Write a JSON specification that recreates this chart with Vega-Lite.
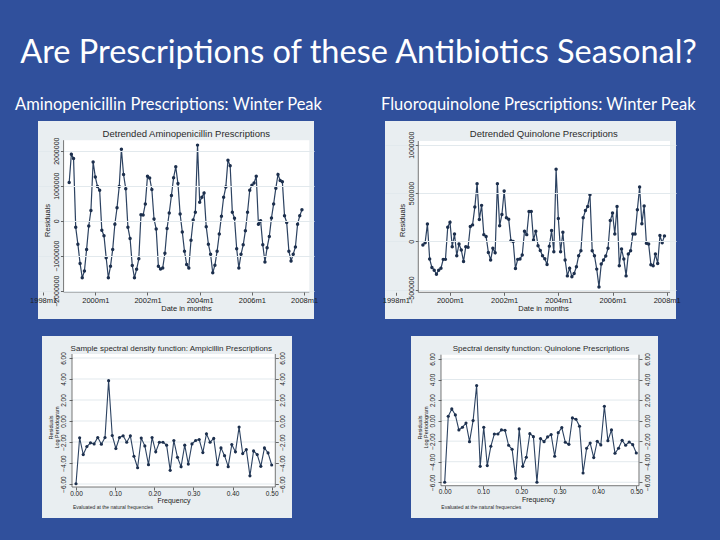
{
  "$schema": "https://vega.github.io/schema/vega-lite/v6.json",
  "background": "#30509c",
  "padding": {"left": 15, "top": 37, "right": 22, "bottom": 22},
  "bounds": "flush",
  "columns": 2,
  "spacing": {"row": 17, "column": 71},
  "title": {"text": "Are Prescriptions of these Antibiotics Seasonal?", "color": "#ffffff", "font": "Lato", "fontSize": 32.5, "fontWeight": "normal", "anchor": "middle", "offset": 27, "dx": 3},
  "config": {
    "view": {"stroke": null},
    "axis": {"labelFont": "Liberation Sans", "titleFont": "Liberation Sans", "labelColor": "#222222", "titleColor": "#222222", "tickColor": "#444444", "tickWidth": 0.8, "domain": false, "labelFlush": false, "labelOverlap": false, "titleFontWeight": "normal"}
  },
  "datasets": {
    "ts": [
      {"t":1999,"a":1090000,"q":-38000},{"t":1999.083,"a":1900000,"q":-14000},{"t":1999.167,"a":1780000,"q":180000},{"t":1999.25,"a":-190000,"q":-184000},{"t":1999.333,"a":-670000,"q":-271000},{"t":1999.417,"a":-1220000,"q":-299000},{"t":1999.5,"a":-1630000,"q":-340000},{"t":1999.583,"a":-1440000,"q":-299000},{"t":1999.667,"a":-820000,"q":-278000},{"t":1999.75,"a":-150000,"q":-187000},{"t":1999.833,"a":290000,"q":-187000},{"t":1999.917,"a":1680000,"q":146000},
      {"t":2000,"a":1250000,"q":198000},{"t":2000.083,"a":980000,"q":-56000},{"t":2000.167,"a":870000,"q":76000},{"t":2000.25,"a":-270000,"q":-149000},{"t":2000.333,"a":-430000,"q":-28000},{"t":2000.417,"a":-1060000,"q":-90000},{"t":2000.5,"a":-1630000,"q":-208000},{"t":2000.583,"a":-1300000,"q":-56000},{"t":2000.667,"a":-820000,"q":-62000},{"t":2000.75,"a":-100000,"q":153000},{"t":2000.833,"a":370000,"q":170000},{"t":2000.917,"a":980000,"q":354000},
      {"t":2001,"a":2040000,"q":597000},{"t":2001.083,"a":1320000,"q":226000},{"t":2001.167,"a":910000,"q":372000},{"t":2001.25,"a":-190000,"q":69000},{"t":2001.333,"a":-510000,"q":49000},{"t":2001.417,"a":-1280000,"q":-115000},{"t":2001.5,"a":-1630000,"q":-194000},{"t":2001.583,"a":-1390000,"q":-73000},{"t":2001.667,"a":-1090000,"q":-118000},{"t":2001.75,"a":170000,"q":597000},{"t":2001.833,"a":160000,"q":160000},{"t":2001.917,"a":480000,"q":278000},
      {"t":2002,"a":1270000,"q":521000},{"t":2002.083,"a":1220000,"q":243000},{"t":2002.167,"a":890000,"q":229000},{"t":2002.25,"a":50000,"q":7000},{"t":2002.333,"a":-240000,"q":-3000},{"t":2002.417,"a":-1300000,"q":-281000},{"t":2002.5,"a":-1380000,"q":-187000},{"t":2002.583,"a":-1350000,"q":-184000},{"t":2002.667,"a":-930000,"q":-142000},{"t":2002.75,"a":-220000,"q":104000},{"t":2002.833,"a":220000,"q":69000},{"t":2002.917,"a":720000,"q":309000},
      {"t":2003,"a":1230000,"q":309000},{"t":2003.083,"a":1540000,"q":14000},{"t":2003.167,"a":1060000,"q":104000},{"t":2003.25,"a":190000,"q":-45000},{"t":2003.333,"a":-320000,"q":-95000},{"t":2003.417,"a":-870000,"q":-150000},{"t":2003.5,"a":-1250000,"q":-180000},{"t":2003.583,"a":-1350000,"q":-240000},{"t":2003.667,"a":-560000,"q":-50000},{"t":2003.75,"a":20000,"q":111000},{"t":2003.833,"a":240000,"q":-108000},{"t":2003.917,"a":2160000,"q":746000},
      {"t":2004,"a":530000,"q":236000},{"t":2004.083,"a":670000,"q":-108000},{"t":2004.167,"a":790000,"q":94000},{"t":2004.25,"a":-170000,"q":-194000},{"t":2004.333,"a":-670000,"q":-358000},{"t":2004.417,"a":-960000,"q":-278000},{"t":2004.5,"a":-1490000,"q":-368000},{"t":2004.583,"a":-1270000,"q":-333000},{"t":2004.667,"a":-870000,"q":-264000},{"t":2004.75,"a":-380000,"q":-149000},{"t":2004.833,"a":130000,"q":-97000},{"t":2004.917,"a":670000,"q":243000},
      {"t":2005,"a":960000,"q":319000},{"t":2005.083,"a":1730000,"q":361000},{"t":2005.167,"a":1570000,"q":483000},{"t":2005.25,"a":240000,"q":-97000},{"t":2005.333,"a":70000,"q":-149000},{"t":2005.417,"a":-800000,"q":-288000},{"t":2005.5,"a":-1350000,"q":-472000},{"t":2005.583,"a":-960000,"q":-236000},{"t":2005.667,"a":-690000,"q":-194000},{"t":2005.75,"a":-290000,"q":-153000},{"t":2005.833,"a":240000,"q":-73000},{"t":2005.917,"a":870000,"q":215000},
      {"t":2006,"a":1010000,"q":292000},{"t":2006.083,"a":1080000,"q":76000},{"t":2006.167,"a":1270000,"q":361000},{"t":2006.25,"a":-100000,"q":-253000},{"t":2006.333,"a":0,"q":-80000},{"t":2006.417,"a":-690000,"q":-184000},{"t":2006.5,"a":-1180000,"q":-358000},{"t":2006.583,"a":-770000,"q":-132000},{"t":2006.667,"a":-450000,"q":-97000},{"t":2006.75,"a":80000,"q":76000},{"t":2006.833,"a":480000,"q":76000},{"t":2006.917,"a":930000,"q":326000},
      {"t":2007,"a":1320000,"q":562000},{"t":2007.083,"a":1150000,"q":181000},{"t":2007.167,"a":1110000,"q":365000},{"t":2007.25,"a":140000,"q":-21000},{"t":2007.333,"a":-50000,"q":-28000},{"t":2007.417,"a":-870000,"q":-243000},{"t":2007.5,"a":-1150000,"q":-253000},{"t":2007.583,"a":-960000,"q":-132000},{"t":2007.667,"a":-750000,"q":-229000},{"t":2007.75,"a":-100000,"q":59000},{"t":2007.833,"a":140000,"q":-14000},{"t":2007.917,"a":310000,"q":56000}
    ],
    "sp": [
      {"f":0,"a":-5.98,"q":-6.0},{"f":0.0093,"a":-1.6,"q":0.42},{"f":0.0185,"a":-3.2,"q":1.14},{"f":0.0278,"a":-2.43,"q":0.55},{"f":0.037,"a":-2.08,"q":-0.91},{"f":0.0463,"a":-2.18,"q":-0.65},{"f":0.0556,"a":-1.57,"q":-0.23},{"f":0.0648,"a":-2.21,"q":-2.05},{"f":0.0741,"a":-1.57,"q":0.0},{"f":0.0833,"a":3.84,"q":3.41},
      {"f":0.0926,"a":-1.38,"q":-4.45},{"f":0.1019,"a":-2.62,"q":-0.65},{"f":0.1111,"a":-1.57,"q":-4.38},{"f":0.1204,"a":-1.41,"q":-2.5},{"f":0.1296,"a":-2.02,"q":-1.3},{"f":0.1389,"a":-1.41,"q":-1.3},{"f":0.1481,"a":-3.36,"q":-0.91},{"f":0.1574,"a":-4.45,"q":-0.94},{"f":0.1667,"a":-1.63,"q":-2.4},{"f":0.1759,"a":-2.37,"q":-2.79},
      {"f":0.1852,"a":-4.16,"q":-5.62},{"f":0.1944,"a":-1.57,"q":-0.81},{"f":0.2037,"a":-2.94,"q":-4.45},{"f":0.213,"a":-2.02,"q":-3.57},{"f":0.2222,"a":-2.02,"q":-1.27},{"f":0.2315,"a":-2.3,"q":-1.56},{"f":0.2407,"a":-4.7,"q":-6.0},{"f":0.25,"a":-1.86,"q":-1.75},{"f":0.2593,"a":-3.46,"q":-2.05},{"f":0.2685,"a":-4.35,"q":-1.59},
      {"f":0.2778,"a":-2.3,"q":-1.36},{"f":0.287,"a":-4.1,"q":-3.47},{"f":0.2963,"a":-2.18,"q":-1.17},{"f":0.3056,"a":-1.86,"q":-0.68},{"f":0.3148,"a":-1.76,"q":-2.11},{"f":0.3241,"a":-3.01,"q":-2.31},{"f":0.3333,"a":-1.22,"q":0.26},{"f":0.3426,"a":-2.02,"q":0.13},{"f":0.3519,"a":-1.66,"q":-0.55},{"f":0.3611,"a":-4.16,"q":-5.1},
      {"f":0.3704,"a":-2.56,"q":-2.69},{"f":0.3796,"a":-3.3,"q":-2.18},{"f":0.3889,"a":-4.35,"q":-3.6},{"f":0.3981,"a":-2.24,"q":-2.01},{"f":0.4074,"a":-2.94,"q":-2.37},{"f":0.4167,"a":-0.58,"q":1.4},{"f":0.4259,"a":-3.1,"q":-1.95},{"f":0.4352,"a":-2.72,"q":-0.91},{"f":0.4444,"a":-5.22,"q":-3.18},{"f":0.4537,"a":-2.85,"q":-2.69},
      {"f":0.463,"a":-3.2,"q":-1.92},{"f":0.4722,"a":-4.32,"q":-2.4},{"f":0.4815,"a":-2.56,"q":-2.08},{"f":0.4907,"a":-3.04,"q":-2.34},{"f":0.5,"a":-4.19,"q":-3.15}
    ]
  },
  "concat": [
    {
      "width": 276, "height": 198,
      "view": {"fill": "#e9eef1", "stroke": null},
      "title": {"text": "Aminopenicillin Prescriptions: Winter Peak", "anchor": "start", "frame": "group", "dx": -23, "offset": 8, "color": "#ffffff", "font": "Lato", "fontSize": 16.5, "fontWeight": "normal"},
      "resolve": {"axis": {"x": "independent", "y": "independent"}},
      "layer": [
        {"data": {"values": [{}]}, "mark": {"type": "rect", "color": "#ffffff"},
         "encoding": {"x": {"datum": 1998.785, "type": "quantitative", "scale": {"domain": [1997.805, 2008.379], "nice": false, "zero": false}, "axis": null}, "x2": {"datum": 2008.2},
                      "y": {"datum": -2037000, "type": "quantitative", "scale": {"domain": [-2809000, 2849000], "nice": false, "zero": false}, "axis": null}, "y2": {"datum": 2300000}}},
        {"data": {"name": "ts"}, "mark": {"type": "line", "color": "#2c4261", "strokeWidth": 1.2, "point": {"filled": true, "size": 12, "color": "#1c2f4d"}},
         "encoding": {
           "x": {"field": "t", "type": "quantitative", "scale": {"domain": [1997.805, 2008.379], "nice": false, "zero": false},
                 "axis": {"values": [1998, 2000, 2002, 2004, 2006, 2008], "labelExpr": "datum.value + 'm1'", "title": "Date in months", "titleX": 148, "offset": -27, "grid": false, "tickSize": 3, "labelPadding": 1, "labelFontSize": 7.5, "titleFontSize": 7.5, "titlePadding": 1, "zindex": 1}},
           "y": {"field": "a", "type": "quantitative", "scale": {"domain": [-2809000, 2849000], "nice": false, "zero": false},
                 "axis": {"values": [-2000000, -1000000, 0, 1000000, 2000000], "format": "d", "title": "Residuals", "offset": -25.5, "labelAngle": -90, "tickSize": 3, "labelPadding": 1, "labelFontSize": 7, "titleFontSize": 7.5, "titlePadding": 1, "grid": true, "gridColor": "#e2e9ed", "zindex": 1}}
         }},
        {"data": {"values": [{}]}, "mark": {"type": "rule", "color": "#555555", "strokeWidth": 0.8},
         "encoding": {"x": {"datum": 1998.785, "type": "quantitative", "scale": {"domain": [1997.805, 2008.379], "nice": false, "zero": false}, "axis": null},
                      "y": {"datum": -2037000, "type": "quantitative", "scale": {"domain": [-2809000, 2849000], "nice": false, "zero": false}, "axis": null}, "y2": {"datum": 2300000}}},
        {"data": {"values": [{}]}, "mark": {"type": "rule", "color": "#555555", "strokeWidth": 0.8},
         "encoding": {"x": {"datum": 1998.785, "type": "quantitative", "scale": {"domain": [1997.805, 2008.379], "nice": false, "zero": false}, "axis": null}, "x2": {"datum": 2008.2},
                      "y": {"datum": -2037000, "type": "quantitative", "scale": {"domain": [-2809000, 2849000], "nice": false, "zero": false}, "axis": null}}},
        {"data": {"values": [{}]}, "mark": {"type": "text", "font": "Liberation Sans", "fontSize": 9.5, "color": "#2a2a2a", "baseline": "middle"},
         "encoding": {"x": {"datum": 2003.487, "type": "quantitative", "scale": {"domain": [1997.805, 2008.379], "nice": false, "zero": false}, "axis": null},
                      "y": {"datum": 2477000, "type": "quantitative", "scale": {"domain": [-2809000, 2849000], "nice": false, "zero": false}, "axis": null},
                      "text": {"value": "Detrended Aminopenicillin Prescriptions"}}}
      ]
    },
    {
      "width": 291, "height": 198,
      "view": {"fill": "#e9eef1", "stroke": null},
      "title": {"text": "Fluoroquinolone Prescriptions: Winter Peak", "anchor": "start", "frame": "group", "dx": -4, "offset": 8, "color": "#ffffff", "font": "Lato", "fontSize": 16.5, "fontWeight": "normal"},
      "resolve": {"axis": {"x": "independent", "y": "independent"}},
      "layer": [
        {"data": {"values": [{}]}, "mark": {"type": "rect", "color": "#ffffff"},
         "encoding": {"x": {"datum": 1998.83, "type": "quantitative", "scale": {"domain": [1997.601, 2008.343], "nice": false, "zero": false}, "axis": null}, "x2": {"datum": 2008.123},
                      "y": {"datum": -528000, "type": "quantitative", "scale": {"domain": [-804300, 1245300], "nice": false, "zero": false}, "axis": null}, "y2": {"datum": 1038000}}},
        {"data": {"name": "ts"}, "mark": {"type": "line", "color": "#2c4261", "strokeWidth": 1.2, "point": {"filled": true, "size": 12, "color": "#1c2f4d"}},
         "encoding": {
           "x": {"field": "t", "type": "quantitative", "scale": {"domain": [1997.601, 2008.343], "nice": false, "zero": false},
                 "axis": {"values": [1998, 2000, 2002, 2004, 2006, 2008], "labelExpr": "datum.value + 'm1'", "title": "Date in months", "titleX": 158, "offset": -26.7, "grid": false, "tickSize": 3, "labelPadding": 1, "labelFontSize": 7.5, "titleFontSize": 7.5, "titlePadding": 1, "zindex": 1}},
           "y": {"field": "q", "type": "quantitative", "scale": {"domain": [-804300, 1245300], "nice": false, "zero": false},
                 "axis": {"values": [-500000, 0, 500000, 1000000], "format": "d", "title": "Residuals", "offset": -33.3, "labelAngle": -90, "tickSize": 3, "labelPadding": 1, "labelFontSize": 7, "titleFontSize": 7.5, "titlePadding": 1, "grid": true, "gridColor": "#e2e9ed", "zindex": 1}}
         }},
        {"data": {"values": [{}]}, "mark": {"type": "rule", "color": "#555555", "strokeWidth": 0.8},
         "encoding": {"x": {"datum": 1998.83, "type": "quantitative", "scale": {"domain": [1997.601, 2008.343], "nice": false, "zero": false}, "axis": null},
                      "y": {"datum": -528000, "type": "quantitative", "scale": {"domain": [-804300, 1245300], "nice": false, "zero": false}, "axis": null}, "y2": {"datum": 1038000}}},
        {"data": {"values": [{}]}, "mark": {"type": "rule", "color": "#555555", "strokeWidth": 0.8},
         "encoding": {"x": {"datum": 1998.83, "type": "quantitative", "scale": {"domain": [1997.601, 2008.343], "nice": false, "zero": false}, "axis": null}, "x2": {"datum": 2008.123},
                      "y": {"datum": -528000, "type": "quantitative", "scale": {"domain": [-804300, 1245300], "nice": false, "zero": false}, "axis": null}}},
        {"data": {"values": [{}]}, "mark": {"type": "text", "font": "Liberation Sans", "fontSize": 9.5, "color": "#2a2a2a", "baseline": "middle"},
         "encoding": {"x": {"datum": 2003.463, "type": "quantitative", "scale": {"domain": [1997.601, 2008.343], "nice": false, "zero": false}, "axis": null},
                      "y": {"datum": 1111000, "type": "quantitative", "scale": {"domain": [-804300, 1245300], "nice": false, "zero": false}, "axis": null},
                      "text": {"value": "Detrended Quinolone Prescriptions"}}}
      ]
    },
    {
      "width": 276, "height": 182,
      "view": {"stroke": null},
      "resolve": {"axis": {"x": "independent", "y": "independent"}},
      "layer": [
        {"data": {"values": [{}]}, "mark": {"type": "rect", "color": "#e9eef1"},
         "encoding": {"x": {"datum": -0.08687, "type": "quantitative", "scale": {"domain": [-0.09709, 0.60808], "nice": false, "zero": false}, "axis": null}, "x2": {"datum": 0.55187},
                      "y": {"datum": -9.238, "type": "quantitative", "scale": {"domain": [-9.238, 8.095], "nice": false, "zero": false}, "axis": null}, "y2": {"datum": 8.095}}},
        {"data": {"values": [{}]}, "mark": {"type": "rect", "color": "#ffffff"},
         "encoding": {"x": {"datum": -0.0102, "type": "quantitative", "scale": {"domain": [-0.09709, 0.60808], "nice": false, "zero": false}, "axis": null}, "x2": {"datum": 0.5092},
                      "y": {"datum": -6.286, "type": "quantitative", "scale": {"domain": [-9.238, 8.095], "nice": false, "zero": false}, "axis": null}, "y2": {"datum": 6.38}}},
        {"data": {"values": [{"g": -6}, {"g": -4}, {"g": -2}, {"g": 0}, {"g": 2}, {"g": 4}, {"g": 6}]}, "mark": {"type": "rule", "color": "#e2e9ed", "strokeWidth": 1},
         "encoding": {"x": {"datum": -0.0102, "type": "quantitative", "scale": {"domain": [-0.09709, 0.60808], "nice": false, "zero": false}, "axis": null}, "x2": {"datum": 0.5092},
                      "y": {"field": "g", "type": "quantitative", "scale": {"domain": [-9.238, 8.095], "nice": false, "zero": false}, "axis": null}}},
        {"data": {"name": "sp"}, "mark": {"type": "line", "color": "#2c4261", "strokeWidth": 1.1, "point": {"filled": true, "size": 10, "color": "#1c2f4d"}},
         "encoding": {
           "x": {"field": "f", "type": "quantitative", "scale": {"domain": [-0.09709, 0.60808], "nice": false, "zero": false},
                 "axis": {"values": [0, 0.1, 0.2, 0.3, 0.4, 0.5], "format": ".2f", "title": "Frequency", "titleX": 135.5, "offset": -31, "grid": false, "tickSize": 3, "labelPadding": 0, "labelFontSize": 6.5, "titleFontSize": 7, "titlePadding": 0, "zindex": 1}},
           "y": {"field": "a", "type": "quantitative", "scale": {"domain": [-9.238, 8.095], "nice": false, "zero": false},
                 "axis": {"values": [-6, -4, -2, 0, 2, 4, 6], "format": ".2f", "title": ["Residuals", "Log Periodogram"], "offset": -34, "labelAngle": -90, "tickSize": 3, "labelPadding": 3, "labelFontSize": 6.5, "titleFontSize": 5.5, "titleLineHeight": 6, "titlePadding": 1, "grid": false, "zindex": 1}}
         }},
        {"data": {"values": [{}]}, "mark": {"type": "rule", "color": "#555555", "strokeWidth": 0.8},
         "encoding": {"x": {"datum": -0.0102, "type": "quantitative", "scale": {"domain": [-0.09709, 0.60808], "nice": false, "zero": false}, "axis": null},
                      "y": {"datum": -6.286, "type": "quantitative", "scale": {"domain": [-9.238, 8.095], "nice": false, "zero": false}, "axis": null}, "y2": {"datum": 6.38}}},
        {"data": {"values": [{}]}, "mark": {"type": "rule", "color": "#555555", "strokeWidth": 0.8},
         "encoding": {"x": {"datum": 0.5092, "type": "quantitative", "scale": {"domain": [-0.09709, 0.60808], "nice": false, "zero": false}, "axis": null},
                      "y": {"datum": -6.286, "type": "quantitative", "scale": {"domain": [-9.238, 8.095], "nice": false, "zero": false},
                            "axis": {"orient": "right", "values": [-6, -4, -2, 0, 2, 4, 6], "format": ".2f", "title": null, "offset": -38.7, "labelAngle": -90, "tickSize": 3, "labelPadding": 1, "labelFontSize": 6.5, "grid": false, "zindex": 1}}, "y2": {"datum": 6.38}}},
        {"data": {"values": [{}]}, "mark": {"type": "rule", "color": "#555555", "strokeWidth": 0.8},
         "encoding": {"x": {"datum": -0.0102, "type": "quantitative", "scale": {"domain": [-0.09709, 0.60808], "nice": false, "zero": false}, "axis": null}, "x2": {"datum": 0.5092},
                      "y": {"datum": -6.286, "type": "quantitative", "scale": {"domain": [-9.238, 8.095], "nice": false, "zero": false}, "axis": null}}},
        {"data": {"values": [{}]}, "mark": {"type": "text", "font": "Liberation Sans", "fontSize": 8, "color": "#2a2a2a", "baseline": "middle"},
         "encoding": {"x": {"datum": 0.2435, "type": "quantitative", "scale": {"domain": [-0.09709, 0.60808], "nice": false, "zero": false}, "axis": null},
                      "y": {"datum": 6.857, "type": "quantitative", "scale": {"domain": [-9.238, 8.095], "nice": false, "zero": false}, "axis": null},
                      "text": {"value": "Sample spectral density function: Ampicillin Prescriptions"}}},
        {"data": {"values": [{}]}, "mark": {"type": "text", "font": "Liberation Sans", "fontSize": 5, "color": "#2a2a2a", "baseline": "middle", "align": "left"},
         "encoding": {"x": {"datum": -0.00766, "type": "quantitative", "scale": {"domain": [-0.09709, 0.60808], "nice": false, "zero": false}, "axis": null},
                      "y": {"datum": -8.219, "type": "quantitative", "scale": {"domain": [-9.238, 8.095], "nice": false, "zero": false}, "axis": null},
                      "text": {"value": "Evaluated at the natural frequencies"}}}
      ]
    },
    {
      "width": 273, "height": 182,
      "view": {"stroke": null},
      "resolve": {"axis": {"x": "independent", "y": "independent"}},
      "layer": [
        {"data": {"values": [{}]}, "mark": {"type": "rect", "color": "#e9eef1"},
         "encoding": {"x": {"datum": -0.08794, "type": "quantitative", "scale": {"domain": [-0.15579, 0.55663], "nice": false, "zero": false}, "axis": null}, "x2": {"datum": 0.55663},
                      "y": {"datum": -9.479, "type": "quantitative", "scale": {"domain": [-9.479, 8.234], "nice": false, "zero": false}, "axis": null}, "y2": {"datum": 8.234}}},
        {"data": {"values": [{}]}, "mark": {"type": "rect", "color": "#ffffff"},
         "encoding": {"x": {"datum": -0.00966, "type": "quantitative", "scale": {"domain": [-0.15579, 0.55663], "nice": false, "zero": false}, "axis": null}, "x2": {"datum": 0.507},
                      "y": {"datum": -6.336, "type": "quantitative", "scale": {"domain": [-9.479, 8.234], "nice": false, "zero": false}, "axis": null}, "y2": {"datum": 6.414}}},
        {"data": {"values": [{"g": -6}, {"g": -4}, {"g": -2}, {"g": 0}, {"g": 2}, {"g": 4}, {"g": 6}]}, "mark": {"type": "rule", "color": "#e2e9ed", "strokeWidth": 1},
         "encoding": {"x": {"datum": -0.00966, "type": "quantitative", "scale": {"domain": [-0.15579, 0.55663], "nice": false, "zero": false}, "axis": null}, "x2": {"datum": 0.507},
                      "y": {"field": "g", "type": "quantitative", "scale": {"domain": [-9.479, 8.234], "nice": false, "zero": false}, "axis": null}}},
        {"data": {"name": "sp"}, "mark": {"type": "line", "color": "#2c4261", "strokeWidth": 1.1, "point": {"filled": true, "size": 10, "color": "#1c2f4d"}},
         "encoding": {
           "x": {"field": "f", "type": "quantitative", "scale": {"domain": [-0.15579, 0.55663], "nice": false, "zero": false},
                 "axis": {"values": [0, 0.1, 0.2, 0.3, 0.4, 0.5], "format": ".2f", "title": "Frequency", "titleX": 153, "offset": -32.3, "grid": false, "tickSize": 3, "labelPadding": 0, "labelFontSize": 6.5, "titleFontSize": 7, "titlePadding": 0, "zindex": 1}},
           "y": {"field": "q", "type": "quantitative", "scale": {"domain": [-9.479, 8.234], "nice": false, "zero": false},
                 "axis": {"values": [-6, -4, -2, 0, 2, 4, 6], "format": ".2f", "title": ["Residuals", "Log Periodogram"], "offset": -56, "labelAngle": -90, "tickSize": 3, "labelPadding": 3, "labelFontSize": 6.5, "titleFontSize": 5.5, "titleLineHeight": 6, "titlePadding": 1, "grid": false, "zindex": 1}}
         }},
        {"data": {"values": [{}]}, "mark": {"type": "rule", "color": "#555555", "strokeWidth": 0.8},
         "encoding": {"x": {"datum": -0.00966, "type": "quantitative", "scale": {"domain": [-0.15579, 0.55663], "nice": false, "zero": false}, "axis": null},
                      "y": {"datum": -6.336, "type": "quantitative", "scale": {"domain": [-9.479, 8.234], "nice": false, "zero": false}, "axis": null}, "y2": {"datum": 6.414}}},
        {"data": {"values": [{}]}, "mark": {"type": "rule", "color": "#555555", "strokeWidth": 0.8},
         "encoding": {"x": {"datum": 0.507, "type": "quantitative", "scale": {"domain": [-0.15579, 0.55663], "nice": false, "zero": false}, "axis": null},
                      "y": {"datum": -6.336, "type": "quantitative", "scale": {"domain": [-9.479, 8.234], "nice": false, "zero": false},
                            "axis": {"orient": "right", "values": [-6, -4, -2, 0, 2, 4, 6], "format": ".2f", "title": null, "offset": -19, "labelAngle": -90, "tickSize": 3, "labelPadding": 2, "labelFontSize": 6.5, "grid": false, "zindex": 1}}, "y2": {"datum": 6.414}}},
        {"data": {"values": [{}]}, "mark": {"type": "rule", "color": "#555555", "strokeWidth": 0.8},
         "encoding": {"x": {"datum": -0.00966, "type": "quantitative", "scale": {"domain": [-0.15579, 0.55663], "nice": false, "zero": false}, "axis": null}, "x2": {"datum": 0.507},
                      "y": {"datum": -6.336, "type": "quantitative", "scale": {"domain": [-9.479, 8.234], "nice": false, "zero": false}, "axis": null}}},
        {"data": {"values": [{}]}, "mark": {"type": "text", "font": "Liberation Sans", "fontSize": 8, "color": "#2a2a2a", "baseline": "middle"},
         "encoding": {"x": {"datum": 0.2513, "type": "quantitative", "scale": {"domain": [-0.15579, 0.55663], "nice": false, "zero": false}, "axis": null},
                      "y": {"datum": 6.968, "type": "quantitative", "scale": {"domain": [-9.479, 8.234], "nice": false, "zero": false}, "axis": null},
                      "text": {"value": "Spectral density function: Quinolone Prescriptions"}}},
        {"data": {"values": [{}]}, "mark": {"type": "text", "font": "Liberation Sans", "fontSize": 5, "color": "#2a2a2a", "baseline": "middle", "align": "left"},
         "encoding": {"x": {"datum": -0.00887, "type": "quantitative", "scale": {"domain": [-0.15579, 0.55663], "nice": false, "zero": false}, "axis": null},
                      "y": {"datum": -8.438, "type": "quantitative", "scale": {"domain": [-9.479, 8.234], "nice": false, "zero": false}, "axis": null},
                      "text": {"value": "Evaluated at the natural frequencies"}}}
      ]
    }
  ]
}
